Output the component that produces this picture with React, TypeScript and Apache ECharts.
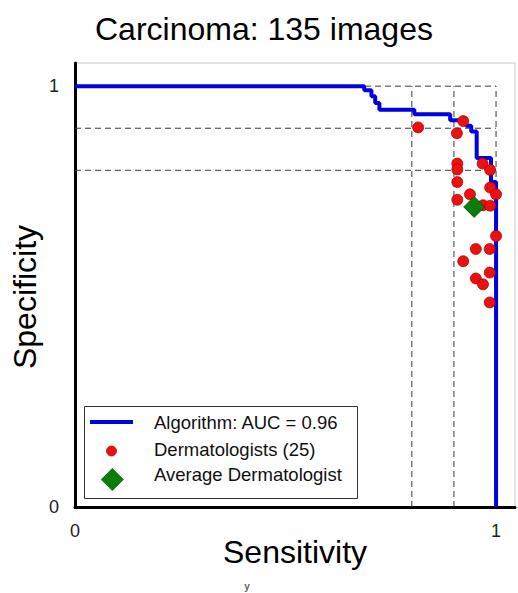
import React, { useEffect, useRef } from "react";
import * as echarts from "echarts";

const titleText = "Carcinoma: 135 images";
const xAxisTitle = "Sensitivity";
const yAxisTitle = "Specificity";
const tickValues = [0, 1];

// ROC step vertices (sensitivity, specificity)
const rocSensitivity = [0, 0.687, 0.704, 0.713, 0.723, 0.806, 0.891, 0.929, 0.941, 0.954, 0.988, 1.0];
const rocSpecificity = [1, 0.99, 0.976, 0.96, 0.944, 0.933, 0.919, 0.906, 0.892, 0.829, 0.772, 0];

// Dermatologists
const dermSensitivity = [
  0.815, 0.922, 0.907, 0.908, 0.908, 0.908, 0.908, 0.968, 0.986, 0.986, 1.0,
  0.938, 0.969, 0.986, 1.0, 0.952, 0.985, 0.922, 0.985, 0.952, 0.969, 0.985,
];
const dermSpecificity = [
  0.902, 0.917, 0.888, 0.816, 0.802, 0.772, 0.73, 0.816, 0.801, 0.759, 0.743,
  0.743, 0.717, 0.716, 0.644, 0.613, 0.613, 0.584, 0.557, 0.543, 0.529, 0.486,
];

const avgSensitivity = [0.948];
const avgSpecificity = [0.713];

const referenceLevels = [0.8, 0.9, 1];

const legendLabels = ["Algorithm: AUC = 0.96", "Dermatologists (25)", "Average Dermatologist"];

const FONT = "'Liberation Sans', Arial, Helvetica, sans-serif";

export default function App() {
  const ref = useRef<HTMLDivElement>(null);
  useEffect(() => {
    if (!ref.current) return;
    const chart = echarts.init(ref.current, null, { renderer: "svg" });

    const dashStyle = { color: "#3a3a3a", width: 1, type: [6, 4] as any };
    const refSeries: any[] = [];
    referenceLevels.forEach((v) => {
      refSeries.push({
        type: "line",
        data: [[0, v], [1, v]],
        symbol: "none",
        silent: true,
        lineStyle: dashStyle,
        z: 1,
      });
      refSeries.push({
        type: "line",
        data: [[v, 0], [v, 1]],
        symbol: "none",
        silent: true,
        lineStyle: dashStyle,
        z: 1,
      });
    });

    const legX = 84;
    const legY = 406;
    const rowY = [422, 449, 474];

    chart.setOption({
      animation: false,
      title: {
        text: titleText,
        left: 90,
        top: 8,
        textStyle: { fontFamily: FONT, fontSize: 32, fontWeight: "normal", color: "#000" },
      },
      grid: {
        left: 75,
        top: 63,
        right: 2,
        bottom: 86,
        show: true,
        borderColor: "#c8c8c8",
        borderWidth: 1,
        backgroundColor: "#fff",
      },
      xAxis: {
        type: "value",
        min: 0,
        max: 1.045,
        interval: 1,
        name: xAxisTitle,
        nameLocation: "middle",
        nameGap: 29,
        nameMoveOverlap: false,
        nameTextStyle: { fontFamily: FONT, fontSize: 32, color: "#000" },
        axisLine: { show: true, lineStyle: { color: "#000", width: 3 } },
        axisTick: { show: false },
        splitLine: { show: false },
        axisLabel: {
          margin: 15,
          fontFamily: FONT,
          fontSize: 18,
          color: "#222",
          formatter: (v: number) => (tickValues.includes(v) ? String(v) : ""),
        },
      },
      yAxis: {
        type: "value",
        min: 0,
        max: 1.055,
        interval: 1,
        name: yAxisTitle,
        nameLocation: "middle",
        nameGap: 34,
        nameMoveOverlap: false,
        nameTextStyle: { fontFamily: FONT, fontSize: 32, color: "#000", padding: [0, 24, 0, 0] },
        axisLine: { show: true, lineStyle: { color: "#000", width: 3 } },
        axisTick: { show: false },
        splitLine: { show: false },
        axisLabel: {
          margin: 16,
          fontFamily: FONT,
          fontSize: 18,
          color: "#222",
          formatter: (v: number) => (tickValues.includes(v) ? String(v) : ""),
        },
      },
      series: [
        ...refSeries,
        {
          name: legendLabels[0],
          type: "line",
          step: "end",
          data: rocSensitivity.map((x, i) => [x, rocSpecificity[i]]),
          symbol: "none",
          lineStyle: { color: "#0000e0", width: 4 },
          z: 3,
        },
        {
          name: legendLabels[1],
          type: "scatter",
          data: dermSensitivity.map((x, i) => [x, dermSpecificity[i]]),
          symbol: "circle",
          symbolSize: 11,
          itemStyle: { color: "#ee1010", borderColor: "#9a0000", borderWidth: 0.7, opacity: 1 },
          z: 4,
        },
        {
          name: legendLabels[2],
          type: "scatter",
          data: avgSensitivity.map((x, i) => [x, avgSpecificity[i]]),
          symbol: "diamond",
          symbolSize: 21,
          itemStyle: { color: "#0b7d0b", borderColor: "#044004", borderWidth: 0.7, opacity: 1 },
          z: 5,
        },
      ],
      graphic: [
        {
          type: "rect",
          shape: { x: legX + 0.5, y: legY + 0.5, width: 273, height: 92 },
          style: { fill: "#fff", stroke: "#333", lineWidth: 1 },
          z: 10,
        },
        {
          type: "line",
          shape: { x1: 90, y1: rowY[0], x2: 133, y2: rowY[0] },
          style: { stroke: "#0000e0", lineWidth: 4 },
          z: 11,
        },
        {
          type: "circle",
          shape: { cx: 111.5, cy: 451, r: 5 },
          style: { fill: "#ee1010", stroke: "#9a0000", lineWidth: 0.7 },
          z: 11,
        },
        {
          type: "polygon",
          shape: { points: [[112.3, 468.5], [123.3, 479.5], [112.3, 490.5], [101.3, 479.5]] },
          style: { fill: "#0b7d0b", stroke: "#044004", lineWidth: 0.7 },
          z: 11,
        },
        ...legendLabels.map((t, i) => ({
          type: "text",
          x: 154,
          y: rowY[i],
          style: {
            text: t,
            fontFamily: FONT,
            fontSize: 18.5,
            fill: "#111",
            textVerticalAlign: "middle",
            verticalAlign: "middle",
          },
          z: 11,
        })),
        {
          type: "text",
          x: 247,
          y: 586,
          style: {
            text: "y",
            fontFamily: FONT,
            fontSize: 10,
            fontWeight: "bold",
            fill: "#666",
            align: "center",
            verticalAlign: "middle",
          },
          z: 11,
        },
      ],
    });
    return () => chart.dispose();
  }, []);
  return (
    <div
      ref={ref}
      style={{ position: "fixed", left: 0, top: 0, width: 518, height: 593, background: "#fff" }}
    />
  );
}
